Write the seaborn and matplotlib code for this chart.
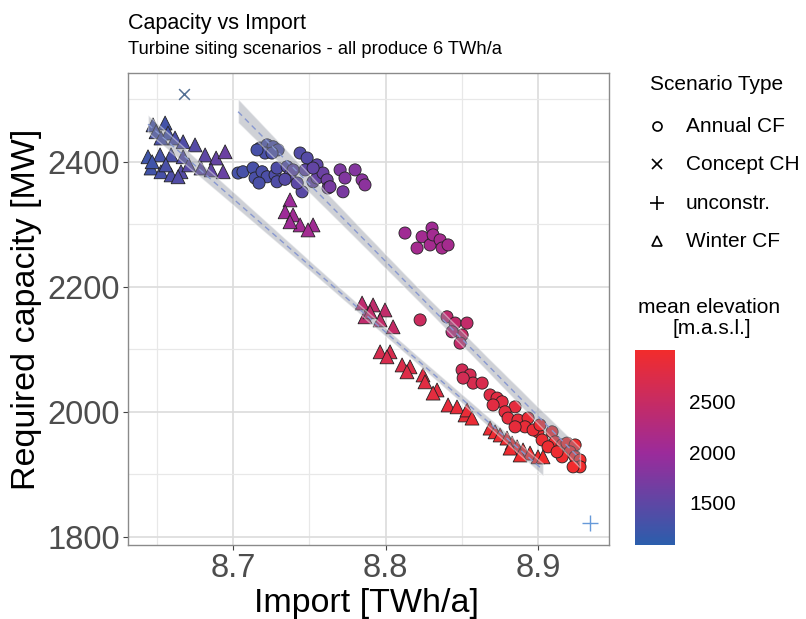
import numpy as np
import pandas as pd
import matplotlib
matplotlib.use("Agg")
import matplotlib.pyplot as plt
import seaborn as sns
from matplotlib.colors import LinearSegmentedColormap, Normalize
from matplotlib.lines import Line2D
import matplotlib.colorbar as mcolorbar

# ---------------- data ----------------
annual_import = [
    8.7177, 8.7223, 8.7262, 8.7295, 8.7210, 8.7255, 8.7157,
    8.7033, 8.7065, 8.7131, 8.7144, 8.7190, 8.7223, 8.7275, 8.7288, 8.7288,
    8.7354, 8.7373, 8.7393, 8.7439, 8.7485, 8.7452, 8.7472, 8.7524, 8.7550,
    8.7550, 8.7589, 8.7616, 8.7622, 8.7524, 8.7701, 8.7799, 8.7733, 8.7845,
    8.7864, 8.7720, 8.7635, 8.7170, 8.7340, 8.7420,
    8.8126, 8.8205, 8.8238, 8.8290, 8.8303, 8.8310, 8.8356, 8.8369, 8.8408,
    8.8225, 8.8401, 8.8454, 8.8532, 8.8500, 8.8434, 8.8487,
    8.8500, 8.8552, 8.8572, 8.8631, 8.8507,
    8.8683, 8.8729, 8.8762, 8.8703, 8.8847, 8.8781, 8.8801, 8.8866, 8.8932,
    8.8912, 8.8997, 8.9024, 8.9089, 8.9109, 8.9063, 8.9155, 8.9187, 8.9240,
    8.9207, 8.9155, 8.9240, 8.9272, 8.9272, 8.9227, 8.9122, 8.8965, 8.9010,
    8.8847,
]
annual_capacity = [
    2422, 2427, 2424, 2419, 2414, 2414, 2419,
    2382, 2384, 2390, 2374, 2384, 2376, 2379, 2390, 2368,
    2392, 2379, 2387, 2414, 2406, 2352, 2387, 2368, 2395,
    2374, 2382, 2371, 2358, 2390, 2387, 2387, 2374, 2371,
    2363, 2352, 2360, 2366, 2372, 2366,
    2286, 2262, 2280, 2267, 2294, 2283, 2275, 2262, 2267,
    2147, 2152, 2142, 2142, 2123, 2128, 2110,
    2067, 2059, 2046, 2046, 2054,
    2027, 2022, 2016, 2011, 2008, 2000, 1990, 1987, 1990,
    1976, 1968, 1955, 1968, 1952, 1944, 1947, 1950, 1947,
    1936, 1928, 1928, 1923, 1912, 1912, 1936, 1971, 1979,
    1976,
]
annual_elevation = [
    1320, 1330, 1340, 1350, 1330, 1340, 1310,
    1300, 1310, 1320, 1330, 1340, 1350, 1370, 1380, 1380,
    1420, 1450, 1480, 1400, 1420, 1450, 1500, 1550, 1500,
    1560, 1600, 1650, 1680, 1530, 1750, 1800, 1780, 1850,
    1870, 1720, 1700, 1330, 1430, 1470,
    2050, 2100, 2080, 2100, 2050, 2080, 2100, 2120, 2110,
    2550, 2400, 2420, 2450, 2480, 2320, 2450,
    2620, 2650, 2680, 2700, 2640,
    2780, 2800, 2820, 2800, 2840, 2840, 2860, 2880, 2900,
    2890, 2920, 2940, 2950, 2960, 2950, 2970, 2980, 2990,
    2980, 2970, 2990, 3000, 3000, 2990, 2960, 2910, 2930,
    2870,
]

winter_import = [
    8.6476, 8.6555, 8.6496, 8.6574, 8.6620, 8.6673, 8.6751, 8.6528, 8.6443,
    8.6522, 8.6594, 8.6673, 8.6817, 8.6889, 8.6948, 8.6463, 8.6528, 8.6594,
    8.6659, 8.6790, 8.6856, 8.6935, 8.6640, 8.6710, 8.6470, 8.6560,
    8.7373, 8.7341, 8.7393, 8.7439, 8.7524, 8.7491, 8.7373,
    8.7845, 8.7917, 8.7995, 8.7864, 8.7963, 8.8048, 8.7897,
    8.7963, 8.8028, 8.8008, 8.8107, 8.8159, 8.8139, 8.8244, 8.8257, 8.8336,
    8.8310, 8.8408, 8.8467, 8.8519, 8.8532, 8.8565,
    8.8683, 8.8716, 8.8749, 8.8794, 8.8827, 8.8860, 8.8899, 8.8945, 8.8997,
    8.9030, 8.8880, 8.8814,
]
winter_capacity = [
    2459, 2462, 2448, 2446, 2438, 2432, 2427, 2438, 2408,
    2411, 2411, 2408, 2411, 2406, 2416, 2390, 2384, 2379,
    2384, 2390, 2387, 2384, 2376, 2395, 2400, 2395,
    2339, 2320, 2315, 2299, 2299, 2291, 2304,
    2174, 2171, 2163, 2152, 2147, 2136, 2160,
    2096, 2096, 2088, 2075, 2072, 2064, 2059, 2048, 2035,
    2030, 2011, 2008, 1995, 2003, 1990,
    1974, 1968, 1963, 1958, 1950, 1944, 1939, 1934, 1928,
    1928, 1931, 1942,
]
winter_elevation = [
    1300, 1280, 1320, 1300, 1350, 1380, 1420, 1330, 1250,
    1300, 1340, 1400, 1500, 1550, 1600, 1270, 1320, 1360,
    1420, 1480, 1520, 1580, 1400, 1450, 1260, 1330,
    2000, 2020, 2050, 2060, 2050, 2080, 2030,
    2400, 2420, 2440, 2420, 2450, 2470, 2430,
    2680, 2700, 2700, 2730, 2760, 2760, 2780, 2800, 2820,
    2830, 2860, 2880, 2900, 2900, 2920,
    2930, 2940, 2950, 2960, 2970, 2970, 2980, 2990, 2990,
    3000, 2980, 2960,
]

concept_import = [8.668]
concept_capacity = [2508]
concept_elevation = [1300]

unconstr_import = [8.934]
unconstr_capacity = [1822]
unconstr_elevation = [1100]

scenario_labels = ["Annual CF", "Concept CH", "unconstr.", "Winter CF"]
x_ticks = [8.7, 8.8, 8.9]
y_ticks = [1800, 2000, 2200, 2400]
cbar_ticks = [1500, 2000, 2500]
elev_range = (1080, 3010)

# ---------------- styling ----------------
sns.set_theme(style="white")
plt.rcParams['font.family'] = ['Liberation Sans', 'DejaVu Sans']

W, H = 806, 619
def fx(px):
    return px / W
def fy(py):
    return 1 - py / H

cmap = LinearSegmentedColormap.from_list(
    "elev", [(0.0, "#2B5EAC"), (0.47, "#9B2B9B"), (1.0, "#F22C2C")])
norm = Normalize(*elev_range)

df_annual = pd.DataFrame({"imp": annual_import, "cap": annual_capacity,
                          "elev": annual_elevation})
df_winter = pd.DataFrame({"imp": winter_import, "cap": winter_capacity,
                          "elev": winter_elevation})
df_concept = pd.DataFrame({"imp": concept_import, "cap": concept_capacity,
                           "elev": concept_elevation})
df_unc = pd.DataFrame({"imp": unconstr_import, "cap": unconstr_capacity,
                       "elev": unconstr_elevation})

fig = plt.figure(figsize=(W / 100, H / 100), dpi=100)
fig.patch.set_facecolor("white")
ax = fig.add_axes([fx(128), fy(545), fx(609) - fx(128), fy(73) - fy(545)])
ax.set_facecolor("white")

# points
sns.scatterplot(data=df_annual, x="imp", y="cap", hue="elev", palette=cmap,
                hue_norm=norm, marker="o", s=76, edgecolor="#222222",
                linewidth=0.6, legend=False, ax=ax, zorder=2)
sns.scatterplot(data=df_winter, x="imp", y="cap", hue="elev", palette=cmap,
                hue_norm=norm, marker="^", s=100, edgecolor="#222222",
                linewidth=0.6, legend=False, ax=ax, zorder=2)
sns.scatterplot(data=df_concept, x="imp", y="cap", marker="x", s=60,
                color=[(0.33, 0.44, 0.58)],
                linewidth=1.1, legend=False, ax=ax, zorder=2)
sns.scatterplot(data=df_unc, x="imp", y="cap", marker="+", s=120,
                color=[(0.40, 0.60, 0.85)],
                linewidth=1.0, legend=False, ax=ax, zorder=2)

# linear fits with confidence bands
for d in (df_annual, df_winter):
    nl = len(ax.lines)
    nc = len(ax.collections)
    sns.regplot(data=d, x="imp", y="cap", scatter=False, ax=ax, seed=0,
                color="#8A92A8", truncate=True,
                line_kws=dict(lw=1.0, ls=(0, (4, 3)), zorder=4))
    for ln in ax.lines[nl:]:
        ln.set_color("#8898D0")
        ln.set_zorder(4)
    for col in ax.collections[nc:]:
        col.set_facecolor("#8E939F")
        col.set_alpha(0.42)
        col.set_zorder(3)

# axes
ax.set_xlim(8.6312, 8.9462)
ax.set_ylim(1787, 2542)
ax.set_xticks(x_ticks)
ax.set_yticks(y_ticks)
ax.set_xticks([8.65, 8.75, 8.85], minor=True)
ax.set_yticks([1900, 2100, 2300, 2500], minor=True)
ax.set_xticklabels([f"{v:.1f}" for v in x_ticks])
ax.set_yticklabels([str(v) for v in y_ticks])
ax.grid(True, which="major", color="#DCDCDC", lw=1.2, zorder=0)
ax.grid(True, which="minor", color="#E8E8E8", lw=0.9, zorder=0)
ax.set_axisbelow(True)
for sp in ax.spines.values():
    sp.set_visible(True)
    sp.set_color("#8A8A8A")
    sp.set_linewidth(1.0)
ax.tick_params(which="major", direction="out", length=3.5, width=0.8,
               color="#444444", labelsize=23.5, labelcolor="#4D4D4D", pad=2,
               bottom=True, left=True)
ax.tick_params(which="minor", length=0)
ax.set_xlabel("")
ax.set_ylabel("")

fig.text(fx(366), fy(612), "Import [TWh/a]", fontsize=24.5, ha="center",
         va="baseline", color="black")
fig.text(fx(27), fy(309), "Required capacity [MW]", fontsize=24.5,
         ha="center", va="center", rotation=90, color="black")

# titles
fig.text(fx(128), fy(29), "Capacity vs Import", fontsize=15.5, ha="left",
         va="baseline", color="black")
fig.text(fx(128), fy(54), "Turbine siting scenarios - all produce 6 TWh/a",
         fontsize=13.2, ha="left", va="baseline", color="black")

# shape legend
fig.text(fx(650), fy(85), "Scenario Type", fontsize=15, ha="left",
         va="center", color="black")
leg_markers = ["o", "x", "+", "^"]
leg_sizes = [6.5, 7, 10, 7.5]
leg_y = [126, 164, 203, 241]
for lab, mk, ms, yy in zip(scenario_labels, leg_markers, leg_sizes, leg_y):
    filled = mk in ("o", "^")
    fig.add_artist(Line2D([fx(657)], [fy(yy)], transform=fig.transFigure,
                          marker=mk, markersize=ms, linestyle="none",
                          markerfacecolor="none" if filled else "black",
                          markeredgecolor="black", markeredgewidth=1.2))
    fig.text(fx(686), fy(yy), lab, fontsize=15, ha="left", va="center",
             color="black")

# colour bar
fig.text(fx(709), fy(307), "mean elevation", fontsize=15, ha="center",
         va="center", color="black")
fig.text(fx(712), fy(328), "[m.a.s.l.]", fontsize=15, ha="center",
         va="center", color="black")
cax = fig.add_axes([fx(635), fy(545), fx(675) - fx(635), fy(350) - fy(545)])
cb = mcolorbar.ColorbarBase(cax, cmap=cmap, norm=norm, orientation="vertical")
cb.set_ticks(cbar_ticks)
cb.set_ticklabels([str(v) for v in cbar_ticks])
cb.outline.set_visible(False)
cax.tick_params(left=True, right=True, labelleft=False, labelright=True,
                direction="in", length=7, width=0.8, color="white",
                labelsize=15, labelcolor="black", pad=10)

fig.savefig("out.png", dpi=100, facecolor="white")
